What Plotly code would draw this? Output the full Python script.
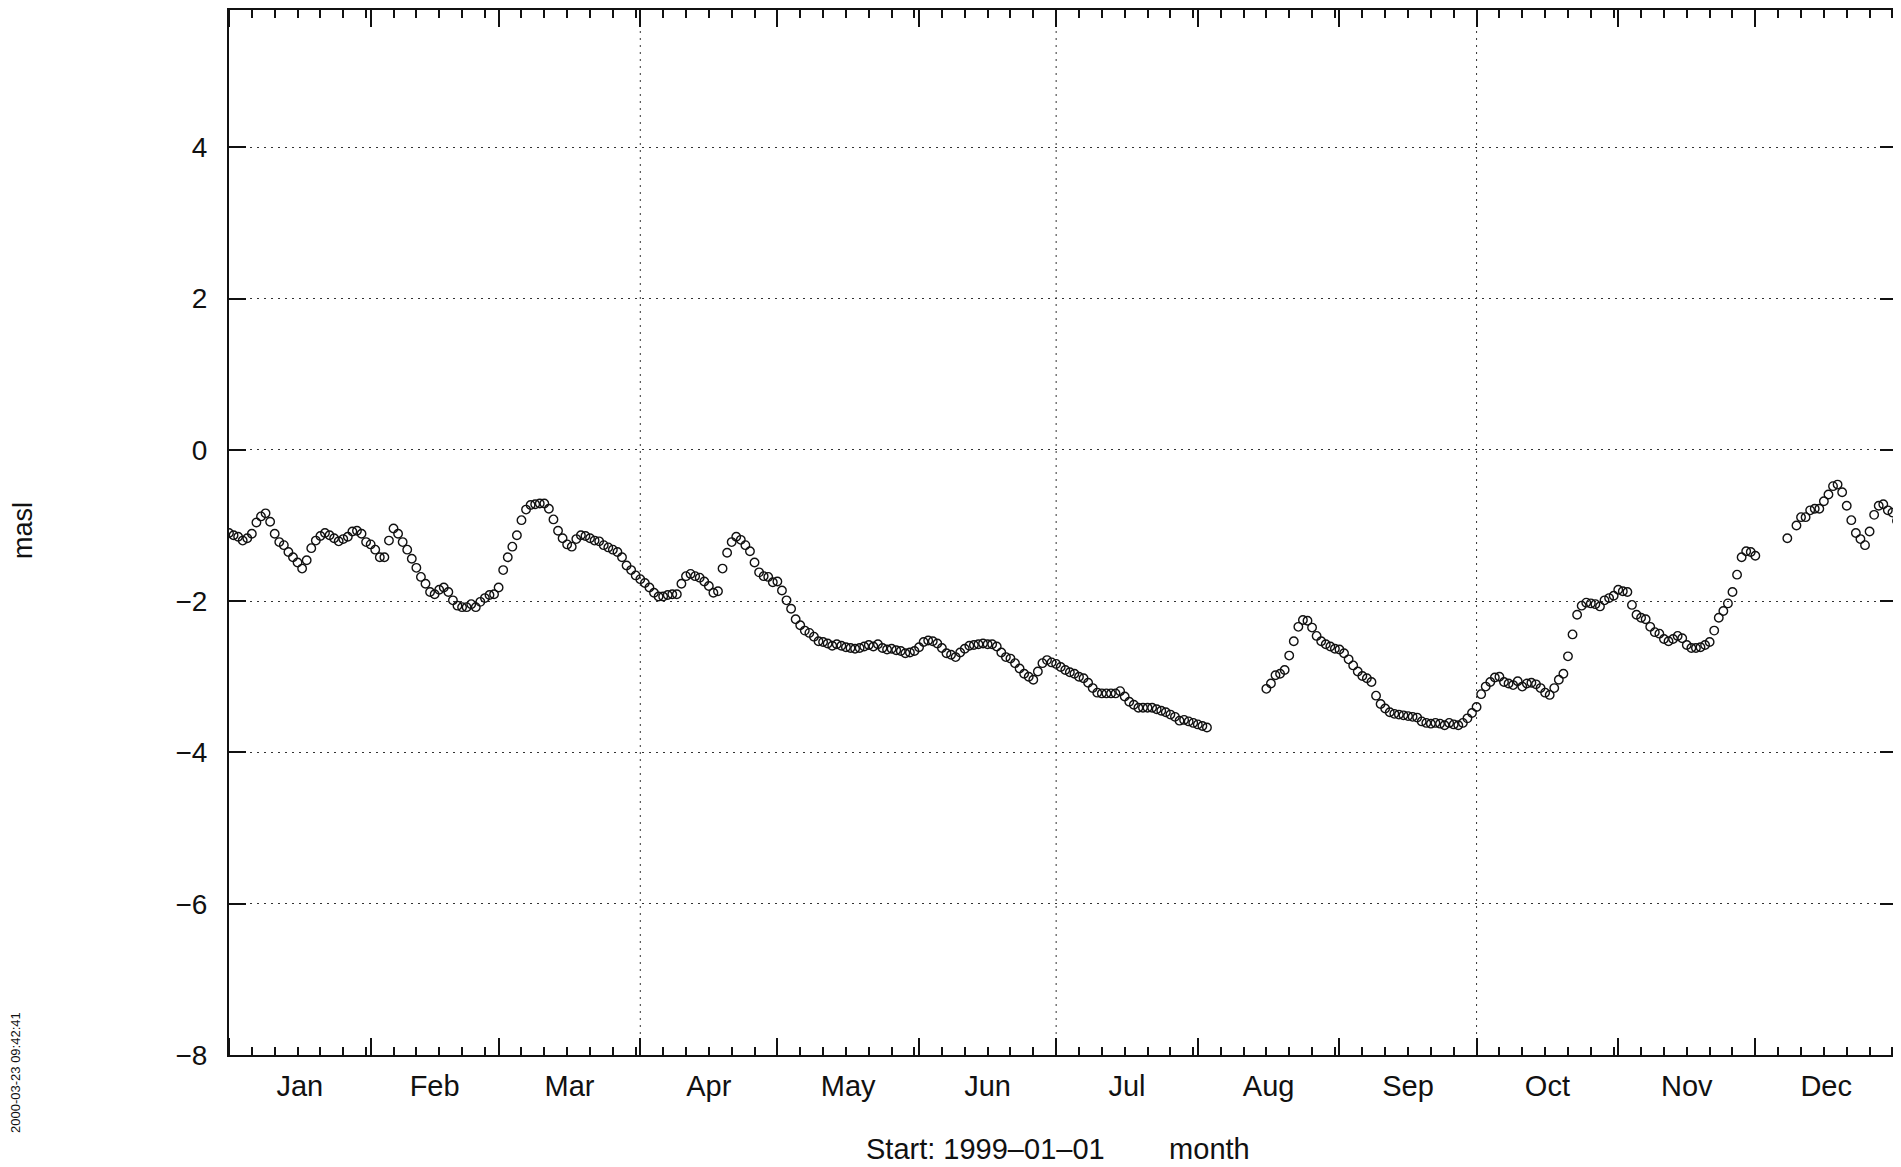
import calendar
import pandas as pd
import plotly.graph_objects as go

# ---- data: daily water level (masl), 1999 ----
seg1_start = "1999-01-01"   # Jan 1 .. Aug 3
seg1_level = [
    -1.10, -1.13, -1.15, -1.20, -1.17, -1.11, -0.96, -0.88, -0.84, -0.95,
    -1.11, -1.22, -1.26, -1.35, -1.42, -1.49, -1.57, -1.46, -1.30, -1.20,
    -1.14, -1.10, -1.13, -1.17, -1.21, -1.18, -1.15, -1.08, -1.07, -1.11,
    -1.22, -1.25, -1.32, -1.42, -1.42, -1.20, -1.04, -1.11, -1.22, -1.32,
    -1.44, -1.56, -1.68, -1.77, -1.88, -1.91, -1.85, -1.82, -1.88, -1.99,
    -2.06, -2.08, -2.08, -2.04, -2.08, -2.01, -1.96, -1.92, -1.91, -1.82,
    -1.59, -1.42, -1.28, -1.13, -0.93, -0.79, -0.73, -0.72, -0.71, -0.71,
    -0.78, -0.92, -1.07, -1.17, -1.25, -1.28, -1.18, -1.13, -1.14, -1.17,
    -1.20, -1.21, -1.26, -1.29, -1.32, -1.35, -1.42, -1.53, -1.59, -1.66,
    -1.71, -1.76, -1.82, -1.89, -1.94, -1.94, -1.92, -1.91, -1.91, -1.77,
    -1.67, -1.64, -1.67, -1.69, -1.74, -1.80, -1.89, -1.87, -1.57, -1.36,
    -1.22, -1.15, -1.19, -1.26, -1.34, -1.49, -1.62, -1.67, -1.68, -1.75,
    -1.74, -1.86, -1.99, -2.10, -2.24, -2.32, -2.39, -2.42, -2.47, -2.53,
    -2.54, -2.56, -2.59, -2.57, -2.59, -2.61, -2.62, -2.63, -2.62, -2.60,
    -2.58, -2.60, -2.57, -2.62, -2.64, -2.63, -2.65, -2.66, -2.69, -2.68,
    -2.66, -2.61, -2.54, -2.52, -2.53, -2.56, -2.62, -2.69, -2.71, -2.74,
    -2.68, -2.63, -2.59, -2.58, -2.57, -2.56, -2.57, -2.57, -2.60, -2.68,
    -2.74, -2.76, -2.82, -2.89, -2.96, -3.00, -3.04, -2.93, -2.82, -2.78,
    -2.81, -2.83, -2.87, -2.91, -2.94, -2.96, -3.00, -3.02, -3.08, -3.15,
    -3.21, -3.22, -3.22, -3.22, -3.22, -3.19, -3.26, -3.33, -3.37, -3.41,
    -3.41, -3.41, -3.41, -3.43, -3.45, -3.47, -3.50, -3.53, -3.58, -3.57,
    -3.59, -3.61, -3.63, -3.65, -3.67,
]

seg2_start = "1999-08-16"   # Aug 16 .. Dec 1
seg2_level = [
    -3.16, -3.09, -2.98, -2.96, -2.91, -2.72, -2.53, -2.34, -2.25, -2.26,
    -2.35, -2.46, -2.53, -2.57, -2.60, -2.63, -2.64, -2.69, -2.77, -2.85,
    -2.93, -2.99, -3.02, -3.07, -3.25, -3.36, -3.42, -3.47, -3.49, -3.50,
    -3.51, -3.52, -3.53, -3.54, -3.59, -3.61, -3.62, -3.61, -3.62, -3.64,
    -3.61, -3.63, -3.64, -3.61, -3.55, -3.48, -3.40, -3.23, -3.13, -3.07,
    -3.01, -3.00, -3.07, -3.09, -3.11, -3.06, -3.13, -3.09, -3.08, -3.10,
    -3.15, -3.21, -3.24, -3.15, -3.04, -2.96, -2.73, -2.44, -2.18, -2.06,
    -2.02, -2.03, -2.04, -2.07, -1.99, -1.96, -1.93, -1.85, -1.87, -1.88,
    -2.05, -2.18, -2.22, -2.24, -2.34, -2.41, -2.43, -2.50, -2.53, -2.50,
    -2.46, -2.49, -2.58, -2.62, -2.62, -2.61, -2.58, -2.54, -2.39, -2.22,
    -2.13, -2.03, -1.88, -1.65, -1.42, -1.34, -1.35, -1.40,
]

seg3_start = "1999-12-08"   # Dec 8 .. Jan 1 2000
seg3_level = [
    -1.17, None, -1.00, -0.89, -0.89, -0.80, -0.78, -0.78, -0.68, -0.59,
    -0.48, -0.46, -0.56, -0.74, -0.93, -1.10, -1.18, -1.26, -1.08, -0.86,
    -0.74, -0.72, -0.80, -0.83, -0.94,
]

segments = [(seg1_start, seg1_level), (seg2_start, seg2_level), (seg3_start, seg3_level)]

y_ticks = [-8, -6, -4, -2, 0, 2, 4]
quarter_grid = ["1999-04-01", "1999-07-01", "1999-10-01"]
x_title = "Start: 1999\u201301\u201301" + "\u00a0" * 8 + "month"
y_title = "masl"
stamp = "2000-03-23 09:42:41"

# minor ticks every 5 days after each month start
minor_dates = []
for m in range(1, 13):
    ndays = calendar.monthrange(1999, m)[1]
    for day in (6, 11, 16, 21, 26, 31):
        if day <= ndays:
            minor_dates.append(f"1999-{m:02d}-{day:02d}")

INK = "#111111"
GRID = "#333333"
FONT = "Liberation Sans, Arial, Helvetica, sans-serif"

# page body has an 8px margin: figure occupies page x 8..1901, y 8..1167
FIG_W, FIG_H = 1893, 1159
PL, PR, PT, PB = 221, 4, 0, 112          # plot area on page: x 229..1889, y 8..1055
PW, PH = FIG_W - PL - PR, FIG_H - PT - PB


def px(page_x):
    return (page_x - 229) / PW


def py(page_y):
    return (1055 - page_y) / PH


fig = go.Figure()
for start, vals in segments:
    dates = pd.date_range(start, periods=len(vals), freq="D")
    fig.add_trace(go.Scatter(
        x=dates, y=vals, mode="markers",
        marker=dict(symbol="circle-open", size=8.5, color=INK, line=dict(width=1.4, color=INK)),
        showlegend=False, hoverinfo="x+y",
    ))

for d in quarter_grid:
    fig.add_shape(type="line", xref="x", yref="paper", x0=d, x1=d, y0=0, y1=1,
                  line=dict(color=GRID, width=1, dash="2px,5px"), layer="below")

fig.update_layout(
    width=FIG_W, height=FIG_H,
    margin=dict(l=PL, r=PR, t=PT, b=PB),
    plot_bgcolor="white", paper_bgcolor="white",
    font=dict(family=FONT, size=29, color=INK),
    showlegend=False,
)

fig.update_xaxes(
    type="date", range=["1999-01-01", "2000-01-01"],
    tick0="1999-01-01", dtick="M1", tickformat="%b", ticklabelmode="period",
    ticks="inside", ticklen=17, tickwidth=1.5, tickcolor=INK,
    showline=True, linewidth=2, linecolor=INK, mirror="ticks",
    showgrid=False, zeroline=False,
    tickfont=dict(family=FONT, size=29, color=INK),
    ticklabelstandoff=4,
    minor=dict(tickvals=minor_dates, ticks="inside", ticklen=8, tickwidth=1.5,
               tickcolor=INK, showgrid=False),
)

fig.update_yaxes(
    range=[-8, 5.814], tickvals=y_ticks,
    ticks="inside", ticklen=17, tickwidth=1.5, tickcolor=INK,
    showline=True, linewidth=2, linecolor=INK, mirror="ticks",
    showgrid=True, gridcolor=GRID, gridwidth=1, griddash="2px,5px",
    zeroline=False,
    tickfont=dict(family=FONT, size=28, color=INK),
    ticklabelstandoff=14,
)

fig.add_annotation(text=y_title, xref="paper", yref="paper",
                   x=px(23), y=py(530),
                   xanchor="center", yanchor="middle", textangle=-90,
                   showarrow=False, font=dict(family=FONT, size=27, color=INK))
fig.add_annotation(text=x_title, xref="paper", yref="paper",
                   x=px(1058), y=py(1149),
                   xanchor="center", yanchor="middle", borderpad=0,
                   showarrow=False, font=dict(family=FONT, size=29, color=INK))
fig.add_annotation(text=stamp, xref="paper", yref="paper",
                   x=px(16), y=py(1072),
                   xanchor="center", yanchor="middle", textangle=-90, borderpad=0,
                   showarrow=False, font=dict(family=FONT, size=13, color=INK))

fig.write_html("out.html")
